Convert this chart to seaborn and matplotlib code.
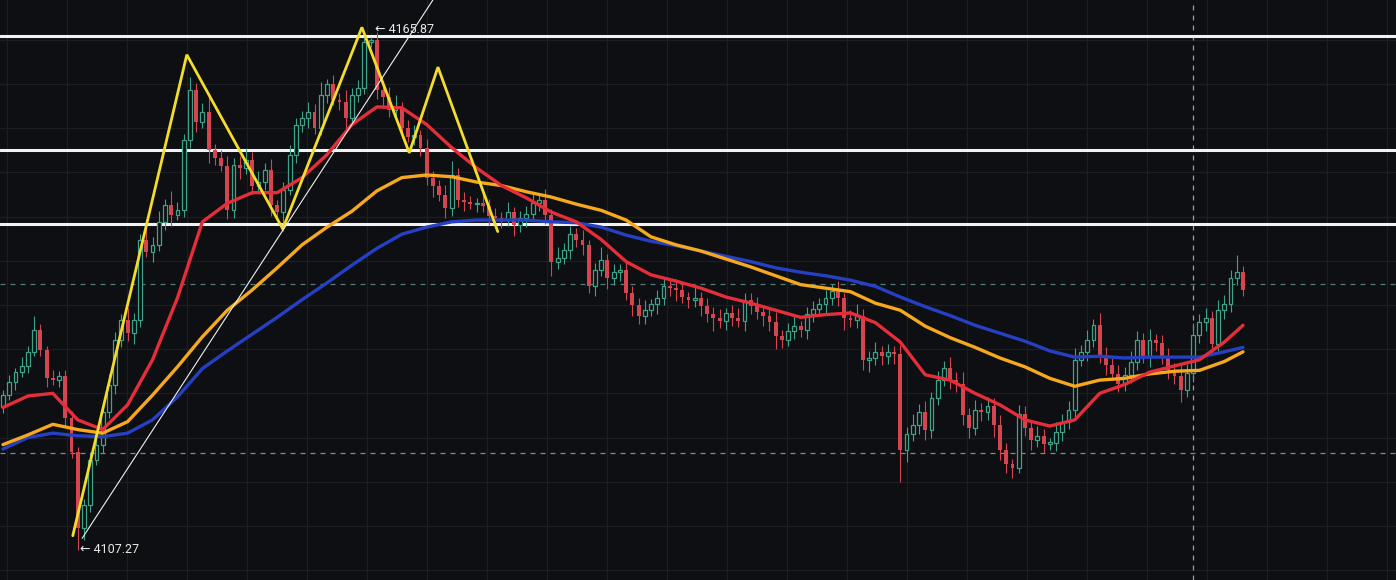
############################################
# GRAFICO DE VELAS CON MEDIAS MOVILES Y PATRON 📈
############################################

import numpy as np
import pandas as pd
import seaborn as sns
import matplotlib.pyplot as plt

# 📥 Cierres de cada vela (precio)
closes = [
    4124.8, 4126.3, 4127.4, 4128.1, 4129.7, 4132.2, 4129.9, 4126.7, 4126.5, 4127.0,
    4122.2, 4118.4, 4109.8, 4112.4, 4117.5, 4119.2, 4122.9, 4126.0, 4131.0, 4133.3,
    4131.8, 4133.3, 4142.4, 4141.0, 4141.8, 4144.4, 4146.3, 4145.2, 4145.7, 4153.7,
    4159.3, 4155.7, 4156.8, 4152.5, 4151.6, 4150.7, 4145.7, 4150.8, 4150.5, 4151.4,
    4148.5, 4148.9, 4150.3, 4146.3, 4145.5, 4148.0, 4152.0, 4155.4, 4156.1, 4156.8,
    4155.0, 4158.8, 4160.0, 4158.2, 4158.0, 4156.1, 4158.8, 4159.5, 4164.7, 4165.0,
    4159.3, 4158.5, 4157.1, 4157.3, 4155.0, 4154.0, 4154.2, 4152.8, 4149.4, 4148.5,
    4147.4, 4146.0, 4149.7, 4146.9, 4146.6, 4146.4, 4146.5, 4146.2, 4145.1, 4144.8,
    4144.6, 4145.5, 4144.0, 4144.8, 4145.3, 4146.5, 4146.9, 4145.2, 4139.9, 4140.3,
    4141.2, 4143.0, 4142.4, 4141.8, 4137.1, 4139.0, 4140.1, 4138.1, 4138.7, 4139.0,
    4136.4, 4135.0, 4133.8, 4134.4, 4135.1, 4135.8, 4137.1, 4136.9, 4136.7, 4135.9,
    4135.6, 4135.8, 4134.9, 4134.0, 4133.5, 4133.2, 4134.1, 4133.5, 4133.2, 4135.6,
    4134.9, 4134.2, 4133.8, 4133.1, 4131.5, 4131.0, 4132.1, 4132.6, 4132.2, 4134.0,
    4134.5, 4135.1, 4135.8, 4136.6, 4135.8, 4133.5, 4133.3, 4133.8, 4128.8, 4129.0,
    4129.7, 4129.2, 4129.7, 4129.5, 4118.6, 4120.4, 4121.4, 4122.9, 4120.9, 4124.5,
    4126.5, 4127.9, 4126.5, 4126.1, 4122.6, 4121.1, 4123.1, 4122.9, 4123.6, 4121.4,
    4118.6, 4117.0, 4116.6, 4122.7, 4121.1, 4119.7, 4120.2, 4119.3, 4119.4, 4120.6,
    4121.8, 4123.1, 4128.8, 4129.7, 4131.0, 4132.7, 4129.3, 4128.2, 4127.2, 4126.1,
    4127.1, 4128.6, 4131.0, 4129.2, 4131.0, 4130.7, 4129.0, 4127.6, 4127.0, 4125.4,
    4127.3, 4131.6, 4133.1, 4133.5, 4130.6, 4134.4, 4135.1, 4138.1, 4138.7, 4136.7,
]
first_open = 4123.5

# Mechas por encima / por debajo del cuerpo
wick_hi = [
    0.6, 0.8, 0.5, 1.0, 0.7, 1.5, 0.6, 0.4, 0.9, 0.5, 0.6, 0.8, 0.5, 0.7, 0.9, 0.6, 0.8, 1.2, 0.9, 0.7,
    1.3, 0.8, 0.6, 2.3, 0.9, 1.2, 0.7, 1.6, 0.9, 0.6, 1.5, 0.8, 1.0, 1.8, 0.7, 0.9, 1.2, 0.8, 1.1, 1.4,
    0.9, 1.3, 0.8, 1.2, 0.6, 0.9, 1.1, 0.7, 0.8, 1.2, 0.9, 1.4, 0.6, 1.0, 0.8, 1.3, 0.7, 0.9, 0.6, 0.3,
    0.9, 0.8, 1.2, 1.5, 0.7, 0.9, 1.1, 0.6, 1.0, 0.8, 0.6, 1.2, 1.6, 0.8, 0.9, 0.7, 0.6, 1.0, 0.8, 0.9,
    0.7, 1.1, 0.6, 0.8, 0.9, 1.0, 0.7, 1.2, 0.6, 1.3, 0.8, 0.9, 0.7, 1.1, 0.6, 0.8, 1.4, 0.7, 0.9, 0.6,
    1.0, 0.7, 0.8, 1.2, 0.6, 0.9, 1.1, 0.7, 1.0, 0.8, 0.6, 1.3, 0.7, 0.9, 0.8, 1.0, 0.6, 0.9, 1.2, 0.8,
    0.7, 1.0, 0.6, 0.8, 1.1, 0.7, 0.9, 1.2, 0.6, 0.8, 1.0, 0.7, 0.9, 0.8, 1.1, 0.6, 0.9, 1.3, 0.7, 0.8,
    1.1, 0.6, 0.9, 0.7, 1.0, 0.8, 1.3, 0.9, 1.2, 0.7, 1.0, 0.8, 1.2, 0.9, 1.3, 0.7, 1.1, 0.8, 1.0, 0.9,
    1.2, 0.8, 0.6, 1.0, 0.9, 0.7, 1.1, 0.8, 0.6, 1.2, 0.9, 1.0, 1.3, 0.8, 1.2, 0.7, 1.4, 0.9, 0.8, 1.0,
    0.9, 1.2, 1.0, 0.8, 1.3, 0.7, 0.9, 1.1, 0.8, 1.2, 1.0, 1.4, 0.9, 1.1, 0.8, 1.2, 1.0, 0.9, 1.9, 0.7,
]
wick_lo = [
    0.7, 0.5, 0.9, 0.6, 0.8, 0.5, 0.7, 1.0, 0.6, 0.8, 0.9, 0.7, 2.5, 1.4, 0.8, 0.6, 0.9, 0.7, 1.1, 0.8,
    0.9, 1.2, 0.8, 0.6, 1.1, 0.7, 0.9, 1.3, 0.6, 0.8, 0.9, 1.1, 0.7, 1.4, 0.8, 0.6, 1.0, 0.9, 1.2, 0.7,
    1.0, 0.8, 0.9, 1.2, 0.7, 1.4, 0.6, 0.9, 0.8, 1.1, 0.7, 0.8, 1.0, 0.6, 0.9, 1.2, 0.7, 0.8, 0.6, 0.5,
    1.0, 1.2, 0.8, 0.7, 1.1, 0.6, 0.9, 1.0, 0.8, 1.3, 0.7, 1.2, 0.9, 0.8, 1.0, 0.6, 0.9, 0.7, 1.1, 0.8,
    0.9, 0.7, 1.2, 0.8, 1.0, 0.6, 0.9, 1.1, 1.6, 0.8, 0.7, 1.0, 0.9, 1.2, 0.8, 1.1, 0.7, 1.3, 0.9, 1.0,
    0.8, 1.2, 1.0, 0.9, 0.7, 1.1, 0.8, 0.9, 1.3, 0.7, 1.0, 0.8, 1.2, 0.9, 1.4, 0.8, 1.0, 0.9, 0.7, 1.1,
    0.9, 0.8, 1.2, 1.0, 1.5, 0.9, 0.7, 1.0, 0.8, 1.1, 0.9, 0.7, 1.0, 0.8, 0.9, 1.3, 0.8, 0.9, 1.2, 1.4,
    0.8, 1.0, 0.9, 1.2, 3.6, 1.4, 0.8, 1.0, 1.2, 0.9, 0.8, 0.7, 1.0, 0.9, 1.2, 1.1, 0.8, 1.0, 0.9, 1.3,
    1.1, 1.0, 1.2, 0.6, 0.9, 1.1, 0.8, 1.0, 0.7, 0.9, 1.0, 0.8, 0.9, 0.7, 1.0, 0.8, 0.9, 1.1, 0.7, 1.0,
    0.8, 0.9, 1.0, 0.8, 1.2, 0.9, 0.7, 1.0, 0.9, 1.4, 0.8, 1.0, 0.9, 1.1, 1.3, 0.8, 1.0, 0.9, 0.8, 0.7,
]

# 📊 Medias moviles (leidas cada 4 velas)
ma_idx = list(range(0, 200, 4)) + [199]
ma_rapida = [
    4123.4, 4124.7, 4125.0, 4122.0, 4120.9, 4123.7, 4128.8, 4135.8, 4144.4, 4146.5,
    4147.7, 4147.7, 4149.4, 4152.0, 4155.4, 4157.4, 4157.3, 4155.4, 4152.8, 4150.5,
    4148.5, 4147.1, 4145.5, 4144.4, 4142.4, 4139.9, 4138.4, 4137.7, 4136.9, 4135.9,
    4135.2, 4134.4, 4133.6, 4133.9, 4134.1, 4133.0, 4130.8, 4127.1, 4126.5, 4125.0,
    4123.7, 4122.0, 4121.3, 4122.0, 4125.0, 4126.0, 4127.4, 4128.1, 4128.8, 4130.8,
    4132.7,
]
ma_media = [
    4119.2, 4120.3, 4121.5, 4120.9, 4120.5, 4121.8, 4124.8, 4128.0, 4131.4, 4134.4,
    4136.7, 4139.2, 4141.8, 4143.8, 4145.6, 4147.9, 4149.4, 4149.7, 4149.5, 4148.9,
    4148.5, 4147.8, 4147.2, 4146.4, 4145.7, 4144.6, 4142.7, 4141.8, 4141.1, 4140.2,
    4139.3, 4138.3, 4137.3, 4136.9, 4136.5, 4135.2, 4134.4, 4132.6, 4131.3, 4130.2,
    4129.0, 4128.0, 4126.7, 4125.8, 4126.5, 4126.7, 4127.2, 4127.5, 4127.6, 4128.6,
    4129.7,
]
ma_lenta = [
    4118.7, 4120.0, 4120.5, 4120.2, 4120.1, 4120.5, 4122.0, 4124.6, 4127.8, 4129.8,
    4131.7, 4133.6, 4135.6, 4137.5, 4139.5, 4141.4, 4143.0, 4143.8, 4144.4, 4144.6,
    4144.6, 4144.6, 4144.4, 4144.3, 4143.8, 4142.9, 4142.2, 4141.7, 4141.1, 4140.5,
    4139.9, 4139.2, 4138.7, 4138.3, 4137.8, 4137.1, 4135.9, 4134.8, 4133.8, 4132.7,
    4131.8, 4130.9, 4129.8, 4129.1, 4129.2, 4129.0, 4129.1, 4129.1, 4129.1, 4129.7,
    4130.2,
]

# 🟡 Patron dibujado (indice de vela, precio)
patron_idx = [11.2, 29.5, 44.9, 57.6, 65.2, 69.8, 79.4]
patron_precio = [4108.9, 4163.3, 4143.6, 4166.4, 4152.2, 4161.9, 4143.3]

# Linea de tendencia
tendencia_idx = [12.7, 69.0]
tendencia_precio = [4108.6, 4169.5]

# Niveles horizontales
niveles = [4165.4, 4152.5, 4144.2]
nivel_actual = 4137.4
nivel_bajo = 4118.3
vela_marcada = 191.0

etiquetas = [("\u2190 4165.87", 59.7, 4166.1), ("\u2190 4107.27", 12.4, 4107.3)]

# 🎨 Colores
fondo = "#0e0f12"
rejilla = "#1c1e23"
verde = "#3fa389"
rojo = "#d4454f"

sns.set_style("dark", {"axes.facecolor": fondo, "figure.facecolor": fondo})
plt.rcParams["font.family"] = ["Roboto", "DejaVu Sans"]

df = pd.DataFrame({"close": closes, "wick_hi": wick_hi, "wick_lo": wick_lo})
df["open"] = [first_open] + closes[:-1]
df["top"] = df[["open", "close"]].max(axis=1)
df["bottom"] = df[["open", "close"]].min(axis=1)
df["high"] = df["top"] + df["wick_hi"]
df["low"] = df["bottom"] - df["wick_lo"]
df["alza"] = df["close"] >= df["open"]

fig = plt.figure(figsize=(13.96, 5.80), dpi=100)
ax = fig.add_axes([0, 0, 1, 1])
ax.set_facecolor(fondo)

# Rejilla
ax.set_yticks(np.arange(4105, 4170, 5))
ax.set_xticks(np.arange(0.64, 224, 9.63))
ax.grid(True, color=rejilla, lw=0.9, zorder=0)
ax.tick_params(length=0, labelleft=False, labelbottom=False)
for s in ax.spines.values():
    s.set_visible(False)

# Lineas punteadas
ax.axhline(nivel_actual, color="#4f7f78", lw=0.9, ls=(0, (4, 4)), zorder=1)
ax.axhline(nivel_bajo, color="#85888e", lw=0.9, ls=(0, (4, 4)), zorder=1)
ax.axvline(vela_marcada, color="#9a9da3", lw=0.9, ls=(0, (4, 4)), zorder=1)

# Niveles blancos
for n in niveles:
    ax.axhline(n, color="#f2f2f2", lw=2.2, zorder=2)

# 🕯️ Velas
colores = np.where(df["alza"], verde, rojo)
ax.vlines(df.index, df["low"], df["high"], colors=colores, lw=0.8, zorder=3)
alto = np.maximum(df["top"] - df["bottom"], 0.15)
up = df["alza"].values
ax.bar(df.index[up], alto[up], bottom=df["bottom"][up], width=0.62,
       facecolor=fondo, edgecolor=verde, lw=0.9, zorder=3.5)
ax.bar(df.index[~up], alto[~up], bottom=df["bottom"][~up], width=0.62,
       color=rojo, lw=0, zorder=3.5)

# Medias moviles
estilo = dict(lw=2.4, ax=ax, zorder=4, solid_joinstyle="round", solid_capstyle="round")
sns.lineplot(x=ma_idx, y=ma_lenta, color="#2540c4", **estilo)
sns.lineplot(x=ma_idx, y=ma_media, color="#f7a91e", **estilo)
sns.lineplot(x=ma_idx, y=ma_rapida, color="#e62d3a", **estilo)

# Patron y tendencia
sns.lineplot(x=patron_idx, y=patron_precio, sort=False, color="#f3dd2c", lw=2.0,
             ax=ax, zorder=5, solid_joinstyle="miter")
sns.lineplot(x=tendencia_idx, y=tendencia_precio, sort=False, color="#f0f0f0", lw=0.8, ax=ax, zorder=5)

for txt, xi, yi in etiquetas:
    ax.text(xi, yi, txt, color="#e8e8e8", fontsize=9, ha="left", va="center", zorder=6)

ax.set_xlim(-0.48, 223.55)
ax.set_ylim(4103.89, 4169.49)
ax.set_xlabel("")
ax.set_ylabel("")

# 💾 Guardar imagen
fig.savefig("out.png", dpi=100, facecolor=fondo)
print("✅ Grafico exportado: out.png")
